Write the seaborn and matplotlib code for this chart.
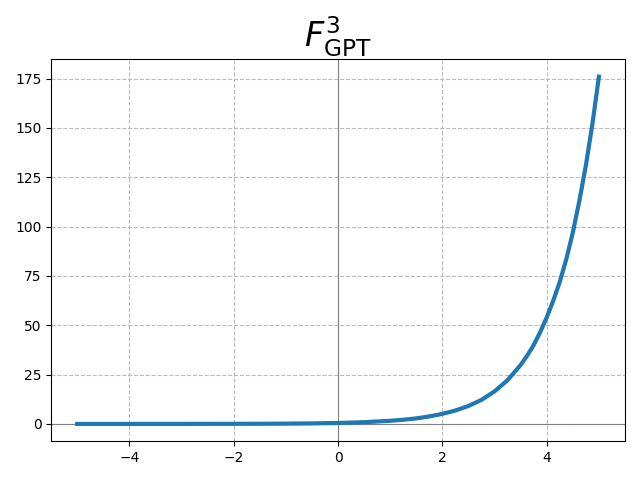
import numpy as np
import pandas as pd
import matplotlib
matplotlib.use("Agg")
import matplotlib.pyplot as plt
import seaborn as sns

# Values
x_vals = [-5.0, -4.5, -4.0, -3.5, -3.0, -2.5, -2.0, -1.5, -1.0, -0.5, 0.0,
          0.5, 1.0, 1.25, 1.5, 1.75, 2.0, 2.25, 2.5, 2.75, 3.0, 3.25,
          3.5, 3.625, 3.75, 3.875, 4.0, 4.125, 4.25, 4.375, 4.5, 4.625,
          4.75, 4.875, 5.0]
y_vals = [0.0, 0.0, 0.0, 0.01, 0.01, 0.03, 0.05, 0.08, 0.15, 0.27, 0.48,
          0.87, 1.6, 2.1, 2.8, 3.8, 5.1, 6.8, 9.1, 12.2, 16.5, 22.2,
          29.9, 34.6, 40.0, 46.5, 54.0, 62.5, 72.0, 83.5, 97.0, 113.0,
          131.0, 152.0, 176.0]

df = pd.DataFrame({'x': x_vals, 'y': y_vals})

plt.style.use('default')

fig, ax = plt.subplots(figsize=(6.4, 4.8), dpi=100)

# Zero axes on top of the dashed grid
ax.axhline(0, color='gray', lw=0.8, zorder=2)
ax.axvline(0, color='gray', lw=0.8, zorder=2)

sns.lineplot(data=df, x='x', y='y', ax=ax, color='#1f77b4', linewidth=3, zorder=3)

ax.grid(True, linestyle='--', color='#bbbbbb', linewidth=0.8)
ax.set_xlabel('')
ax.set_ylabel('')
ax.set_title(r'$F^{3}_{\mathrm{GPT}}$', fontsize=24)

plt.tight_layout()
plt.savefig('out.png', dpi=100)
